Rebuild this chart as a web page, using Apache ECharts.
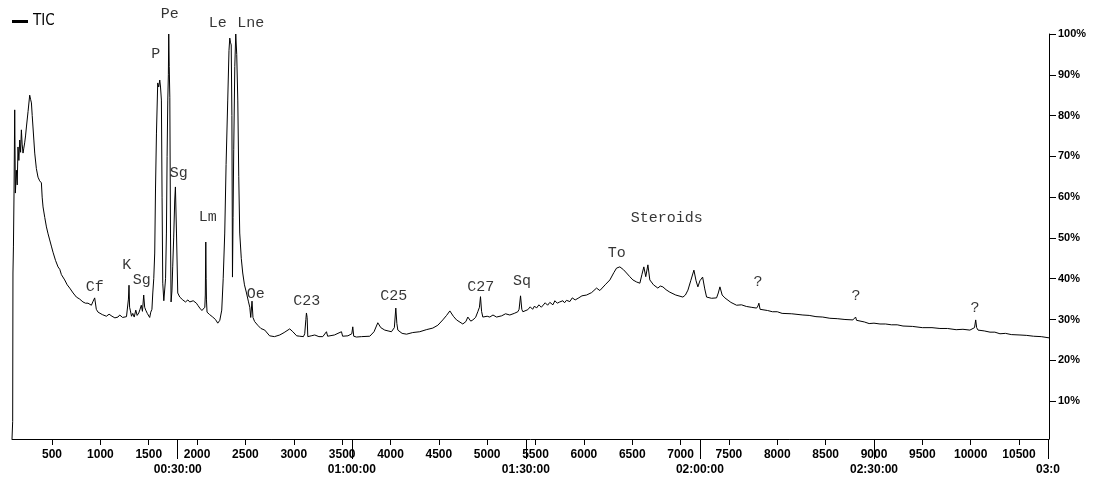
<!DOCTYPE html>
<html>
<head>
<meta charset="utf-8">
<script src="https://cdn.jsdelivr.net/npm/echarts@6/dist/echarts.min.js"></script>
<style>
html,body{margin:0;padding:0;background:#fff;}
#chart{width:1100px;height:480px;}
</style>
</head>
<body>
<div id="chart"></div>
<script>
// ---- data (scan number vs. relative abundance %) ----
const scans = [86,93,96,101,107,114,121,131,140,148,157,166,175,183,191,200,208,217,226,235,252,269,278,287,295,303,312,321,338,355,372,390,398,407,425,442,459,476,493,510,536,562,580,597,615,631,657,683,700,718,735,752,786,820,846,872,890,907,925,941,958,976,1020,1062,1090,1120,1150,1182,1200,1230,1270,1283,1290,1296,1302,1309,1322,1335,1350,1366,1380,1397,1410,1423,1435,1448,1458,1469,1485,1500,1510,1521,1533,1542,1552,1562,1570,1580,1593,1603,1614,1622,1631,1638,1645,1656,1666,1674,1683,1690,1697,1703,1707,1712,1718,1725,1731,1740,1748,1758,1769,1776,1787,1800,1821,1852,1880,1905,1924,1960,1993,2010,2028,2050,2069,2080,2085,2090,2094,2097,2103,2130,2162,2190,2214,2235,2255,2270,2286,2300,2317,2330,2338,2345,2353,2360,2366,2372,2379,2390,2400,2410,2421,2431,2441,2457,2472,2490,2511,2530,2545,2555,2568,2578,2595,2627,2660,2700,2750,2800,2855,2900,2958,2990,3030,3062,3100,3113,3125,3131,3138,3145,3180,3217,3260,3300,3338,3350,3420,3493,3505,3560,3600,3610,3620,3648,3700,3786,3830,3869,3900,3941,3975,4010,4040,4055,4066,4076,4120,4166,4230,4303,4370,4438,4490,4541,4580,4614,4650,4683,4748,4780,4800,4830,4852,4880,4903,4920,4931,4942,4955,5000,5027,5060,5097,5150,5190,5234,5280,5317,5330,5345,5358,5369,5420,5445,5470,5490,5510,5535,5560,5580,5600,5625,5648,5680,5700,5725,5750,5783,5800,5820,5855,5880,5910,5940,5980,6028,6080,6131,6165,6220,6269,6310,6338,6372,6410,6441,6475,6507,6545,6579,6600,6620,6640,6662,6682,6720,6765,6790,6817,6850,6889,6950,7024,7050,7076,7105,7138,7160,7179,7200,7228,7250,7269,7320,7372,7390,7407,7430,7458,7520,7579,7630,7680,7730,7786,7800,7810,7822,7838,7900,7950,8000,8050,8150,8265,8330,8400,8470,8544,8620,8700,8782,8800,8810,8820,8834,8900,8950,9000,9062,9120,9180,9240,9300,9400,9500,9600,9682,9760,9850,9920,9992,10040,10052,10062,10076,10140,10200,10250,10303,10360,10420,10510,10580,10650,10730,10810];
const tic = [0.7,5,41.4,48,61,81.4,61,66.6,63,72.3,69,74,71,76.5,73,70.8,72,73.3,75,77.2,81,85,84,83.1,80,77.2,74,70.8,67,64.9,64,63.5,60,57.6,55,52.7,51,49.5,48,46.5,44.5,42.9,42.3,41,40.6,39.7,38.5,37.7,37.4,36.5,36.2,35.5,35,34.3,34,34,33.8,33.5,34.5,35.3,32.5,31.8,31.2,30.8,31.3,30.8,30.4,30.6,31.1,30.5,30.7,31,35,38.4,33,32.3,30.8,31.5,30.6,32.3,31,31.6,32.5,33.5,32,36,33,32.3,31.5,31.1,30.5,31.8,32.5,36.5,40,46.3,62,75.7,88,87,88.7,87,83.8,60,38.9,34.6,34.3,40,51.2,70,83.8,90,100,92,84.5,51.2,34.3,37,42.9,50,59.3,62.5,51.2,36.5,35.5,34.8,34.3,34.8,34.3,34.6,34,33.4,32.8,32.2,31.8,33,36,49,40,34.8,31.8,31.2,30.6,30,29.1,29.8,32.3,40,51.2,68,83.8,96,99,98,97.3,80,40.4,55,71.6,92,100,95,83.8,65,51.2,45,41.4,38.5,36.5,34.5,33,30.5,34.5,30.5,29.5,28.6,27.8,27.4,26,25.8,26.2,26.8,27.7,27,26,25.9,25.8,26.5,30,31.6,30.5,25.8,26,26.2,25.8,25.8,27,25.9,26.2,27,25.9,26,26.5,28.2,25.9,25.7,25.8,25.9,27,29.2,28,27.4,27.2,27,28,32.8,29,27.4,26.6,26.4,26.8,27,27.5,27.9,28.6,29.9,31,32.1,30.8,29.9,28.9,29.5,30.6,29.6,29.9,30.5,31.9,33,35.6,32,30.6,30.8,30.6,31.1,30.6,30.9,31.4,31.1,31.5,31.9,32.5,35.8,32.5,31.9,32.4,33.1,32.5,33.3,32.8,33.6,33.0,33.3,34.1,33.5,34.2,33.6,34.6,34.0,34.3,34.6,34.1,34.7,34.4,35.3,34.8,35.2,35.8,36.0,36.6,37.7,37.1,38.5,39.7,41.5,42.6,42.9,42.2,41.4,40.5,39.7,39.2,38.9,41,42.9,40.5,43.4,39.7,38.5,37.7,38.2,38,37.3,36.7,36,35.5,36,37.2,39.5,42.1,39.5,38,39.5,40.4,37.5,35.5,35.2,35.3,36.5,38,36,35.3,34.2,33.5,33.6,33.2,33.0,32.8,33.3,34,32.5,32.3,32.2,31.9,31.9,31.5,31.4,31.1,31.0,30.7,30.6,30.3,30.2,30.0,29.9,30.3,30.6,29.8,29.4,29.4,29.0,29.1,28.9,28.9,28.7,28.7,28.4,28.3,28.0,28.0,27.8,27.8,27.5,27.6,27.4,28,29.9,28,27.4,27.2,26.9,26.9,26.5,26.6,26.3,26.2,26.1,25.9,25.8,25.5];

// peak annotations
const peakNames  = ['Pe','P','Le','Lne','Sg','Lm','K','Sg','Cf','Oe','C23','C25','C27','Sq','To','Steroids','?','?','?'];
const peakScans  = [1717,1573,2214,2555,1810,2110,1272,1428,941,2607,3134,4034,4934,5359,6341,6858,7800,8814,10044];
const peakLevels = [104.9,95.1,102.7,102.7,65.9,55.1,43.4,39.7,38.0,36.2,34.5,35.7,38.0,39.4,46.3,54.9,39.2,35.8,32.8];

// axis ticks
const scanTicks  = [500,1000,1500,2000,2500,3000,3500,4000,4500,5000,5500,6000,6500,7000,7500,8000,8500,9000,9500,10000,10500];
const timeTicks  = [1800,3600,5400,7200,9000,10800];
const timeLabels = ['00:30:00','01:00:00','01:30:00','02:00:00','02:30:00','03:0'];
const pctTicks   = [10,20,30,40,50,60,70,80,90,100];

const X_MIN = 86, X_MAX = 10810;
const NARROW = "'Liberation Sans Narrow','DejaVu Sans Condensed','Liberation Sans',sans-serif";

const chart = echarts.init(document.getElementById('chart'), null, {renderer:'canvas'});
chart.setOption({
  animation: false,
  backgroundColor: '#fff',
  legend: {
    data: ['TIC'], left: 7, top: 9,
    icon: 'rect', itemWidth: 16, itemHeight: 3,
    textStyle: {fontFamily: NARROW, fontSize: 15, color: '#000'}
  },
  grid: {left: 12, right: 51, top: 34, bottom: 41},
  xAxis: [
    {
      type: 'value', min: X_MIN, max: X_MAX,
      axisLine: {show: true, lineStyle: {color: '#000', width: 1}},
      axisTick: {show: true, length: 6, customValues: scanTicks, lineStyle: {color: '#000'}},
      axisLabel: {customValues: scanTicks, margin: 10, color: '#000', fontFamily: 'Liberation Sans', fontWeight: 'bold', fontSize: 12,
        formatter: v => String(v)},
      splitLine: {show: false}
    },
    {
      type: 'value', min: X_MIN, max: X_MAX, position: 'bottom',
      axisLine: {show: false},
      axisTick: {show: true, length: 20, customValues: timeTicks, lineStyle: {color: '#000'}},
      axisLabel: {customValues: timeTicks, margin: 25, color: '#000', fontFamily: 'Liberation Sans', fontWeight: 'bold', fontSize: 12,
        formatter: v => timeLabels[timeTicks.indexOf(v)] || ''},
      splitLine: {show: false}
    }
  ],
  yAxis: {
    type: 'value', position: 'right', min: 0.7, max: 100,
    axisLine: {show: true, lineStyle: {color: '#000', width: 1}},
    axisTick: {show: true, length: 7, customValues: pctTicks, lineStyle: {color: '#000'}},
    axisLabel: {customValues: pctTicks, margin: 9, color: '#000', fontFamily: 'Liberation Sans', fontWeight: 'bold', fontSize: 11,
      formatter: v => v + '%'},
    splitLine: {show: false}
  },
  series: [
    {
      name: 'TIC', type: 'line', xAxisIndex: 0,
      data: scans.map((s, i) => [s, tic[i]]),
      showSymbol: false, symbol: 'none',
      lineStyle: {color: '#000', width: 1},
      itemStyle: {color: '#000'},
      clip: true
    },
    {
      name: 'labels', type: 'scatter', xAxisIndex: 0,
      data: peakNames.map((n, i) => [peakScans[i], peakLevels[i], n]),
      symbolSize: 0, silent: true, clip: false,
      label: {show: true, position: 'inside', formatter: p => p.data[2],
        fontFamily: 'Liberation Mono', fontSize: 15, color: '#000'}
    }
  ]
});
</script>
</body>
</html>
